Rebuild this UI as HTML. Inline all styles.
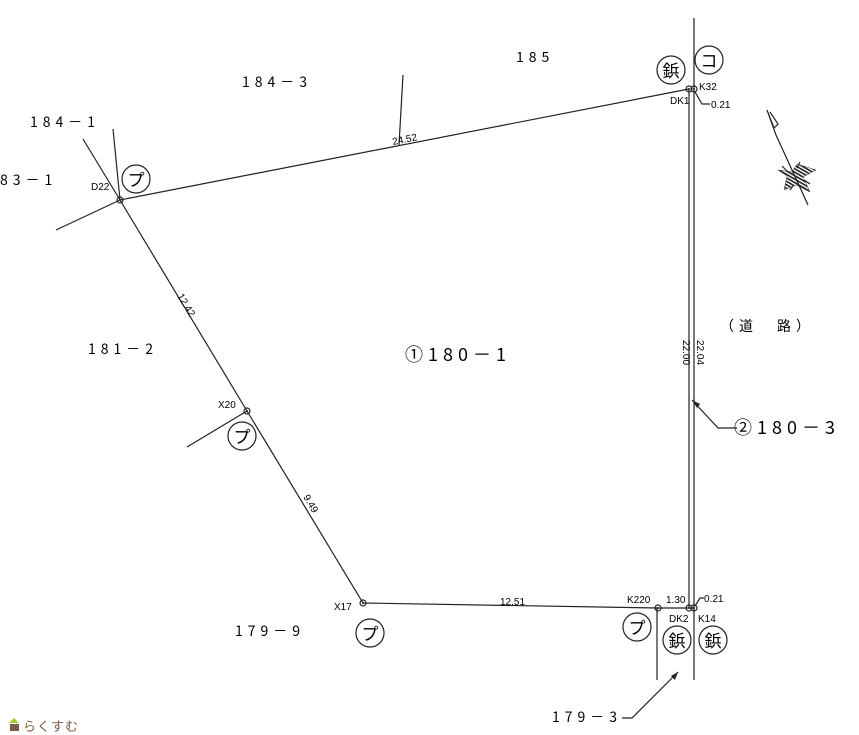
<!DOCTYPE html>
<html><head><meta charset="utf-8"><style>
html,body{margin:0;padding:0;background:#fff;width:859px;height:735px;overflow:hidden}
svg{display:block}
text{font-family:"Liberation Sans","Noto Sans CJK JP",sans-serif;fill:#000}
.s{font-family:"Liberation Sans Narrow","Liberation Sans",sans-serif;font-size:10px}
.l{font-size:14px;letter-spacing:5px;font-family:"Noto Sans CJK JP",sans-serif}
</style></head><body>
<svg width="859" height="735" viewBox="0 0 859 735" xmlns="http://www.w3.org/2000/svg">
<defs>
<pattern id="h" width="3" height="3" patternUnits="userSpaceOnUse" patternTransform="rotate(30)">
<rect width="3" height="1.6" fill="#222"/></pattern>
</defs>
<g stroke="#222" stroke-width="1.2" fill="none">
<polyline points="120,200 689,89"/>
<polyline points="120,200 247,411 363,603 658,608 694,608"/>
<line x1="689" y1="89" x2="689" y2="608"/>
<line x1="694" y1="18" x2="694" y2="680"/>
<line x1="657" y1="608" x2="657" y2="680"/>
<line x1="83" y1="139" x2="120" y2="200"/>
<line x1="113" y1="129" x2="120" y2="200"/>
<line x1="56" y1="230" x2="120" y2="200"/>
<line x1="403" y1="75" x2="399" y2="145"/>
<line x1="247" y1="411" x2="187" y2="447"/>
<circle cx="120" cy="200" r="3"/><circle cx="247" cy="411" r="3"/><circle cx="363" cy="603" r="3"/>
<circle cx="658" cy="608" r="3"/><circle cx="689" cy="608" r="3"/><circle cx="694" cy="608" r="3"/>
<circle cx="689" cy="89" r="3"/><circle cx="694" cy="89" r="3"/>
<circle cx="136" cy="179" r="14"/><circle cx="242" cy="436" r="14"/><circle cx="370" cy="633" r="14"/><circle cx="637" cy="627" r="14"/>
<circle cx="671" cy="70" r="14"/><circle cx="709" cy="60" r="14"/><circle cx="677" cy="640" r="14"/><circle cx="713" cy="640" r="14"/>
<polyline points="695,92 702,104 710,104"/>
<polyline points="695,606 700,598 704,598"/>
<polyline points="737,428 718,428 692,400"/>
<polyline points="622,718 632,718 678,672"/>
<polyline points="808,205 776,135 767,110 774,128 778,124 770,112"/>
<line x1="782" y1="166" x2="788" y2="172"/><line x1="810" y1="184" x2="804" y2="180"/>
<line x1="800" y1="162" x2="797" y2="168"/><line x1="790" y1="190" x2="793" y2="186"/>
</g>
<polygon points="797,164 816,170 803,177 810,192 796,185 784,190 787,176 778,170 792,172" fill="url(#h)" stroke="#333" stroke-width="0.5"/>
<g fill="#222" stroke="none">
<circle cx="120" cy="200" r="1"/><circle cx="247" cy="411" r="1"/><circle cx="363" cy="603" r="1"/><circle cx="658" cy="608" r="1"/><circle cx="689" cy="608" r="1"/><circle cx="694" cy="608" r="1"/><circle cx="689" cy="89" r="1"/><circle cx="694" cy="89" r="1"/>
<polygon points="692,400 697,408 700,404"/>
<polygon points="678,672 671,676 675,680"/>
</g>
<g font-size="17" text-anchor="middle">
<text x="136" y="186">プ</text><text x="242" y="443">プ</text><text x="370" y="640">プ</text><text x="637" y="634">プ</text>
<text x="671" y="77">鋲</text><text x="709" y="67">コ</text><text x="677" y="647">鋲</text><text x="713" y="647">鋲</text>
</g>
<text class="s" x="91" y="190">D22</text>
<text class="s" x="218" y="408">X20</text>
<text class="s" x="334" y="610">X17</text>
<text class="s" x="627" y="603">K220</text>
<text class="s" x="666" y="603">1.30</text>
<text class="s" x="669" y="622">DK2</text>
<text class="s" x="698" y="622">K14</text>
<text class="s" x="704" y="602">0.21</text>
<text class="s" x="699" y="90">K32</text>
<text class="s" x="670" y="104">DK1</text>
<text class="s" x="711" y="108">0.21</text>
<text class="s" x="500" y="605">12.51</text>
<text class="s" x="393" y="145" transform="rotate(-11 393 145)">24.52</text>
<text class="s" x="177" y="296" transform="rotate(59 177 296)">12.42</text>
<text class="s" x="303" y="497" transform="rotate(59 303 497)">9.49</text>
<text class="s" x="683" y="340" transform="rotate(90 683 340)">22.00</text>
<text class="s" x="697" y="340" transform="rotate(90 697 340)">22.04</text>
<text class="l" x="516" y="62">185</text>
<text class="l" x="242" y="87">184－3</text>
<text class="l" x="30" y="127">184－1</text>
<text class="l" x="0" y="185">83－1</text>
<text class="l" x="88" y="354">181－2</text>
<text class="l" x="235" y="636">179－9</text>
<text class="l" x="552" y="722">179－3</text>
<text class="l" x="720" y="331">（道　路）</text>
<text x="405" y="361" font-size="18" letter-spacing="5" style="font-family:'Noto Sans CJK JP',sans-serif">①180－1</text>
<text x="734" y="434" font-size="18" letter-spacing="5" style="font-family:'Noto Sans CJK JP',sans-serif">②180－3</text>
<polygon points="9,723 14,718 19,723" fill="#a6c832"/>
<rect x="10" y="724" width="9" height="7" fill="#7a5a44"/>
<text x="23" y="731" font-size="13" style="fill:#7a5a44" letter-spacing="1">らくすむ</text>
</svg>
</body></html>
